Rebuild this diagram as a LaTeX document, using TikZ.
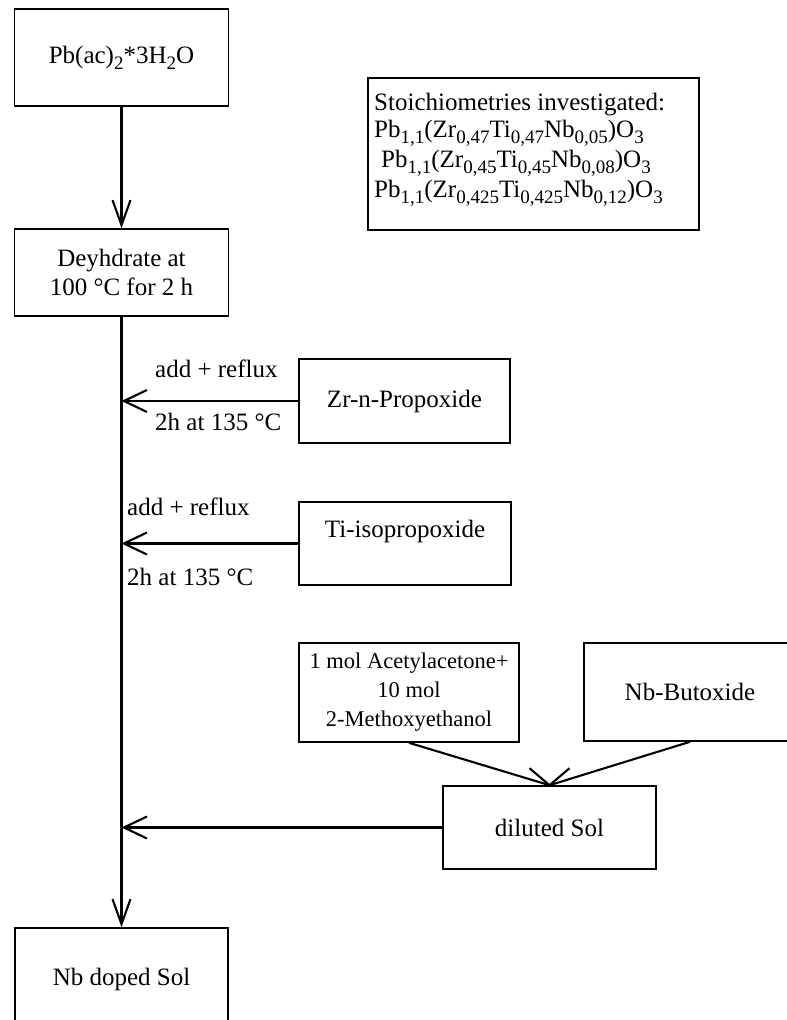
\documentclass[tikz,border=0pt]{standalone}
\usepackage{fontspec}
\setmainfont{Liberation Serif}
\usetikzlibrary{arrows.meta,calc}
\newcommand\sbs[1]{\raisebox{-0.25em}{\fontsize{19}{19}\selectfont #1}}
\begin{document}
\begin{tikzpicture}[x=1pt,y=-1pt,
  box/.style={draw,line width=1.6pt,inner sep=0pt,align=center,font=\fontsize{25}{29.5}\selectfont},
  lbl/.style={inner sep=0pt,anchor=base west,font=\fontsize{25}{29.5}\selectfont},
  conn/.style={line width=2.1pt},
  vtip/.style={-{Straight Barb[length=25pt,width=18pt]}},
  htip/.style={-{Straight Barb[length=23pt,width=22pt]}}]
\useasboundingbox (0,0) rectangle (787,1020);
\clip (0,0) rectangle (787,1020);

\node[box,minimum width=214pt,minimum height=97pt] (pb) at (121.5,57.5) {Pb(ac)\sbs{2}*3H\sbs{2}O};
\node[box,minimum width=214pt,minimum height=87pt] (dh) at (121.5,272.5) {Deyhdrate at\\100 °C for 2 h};
\node[box,minimum width=211pt,minimum height=84pt] (zr) at (404.5,401) {Zr-n-Propoxide};
\node[box,minimum width=212pt,minimum height=83pt] (ti) at (405,543.5) {Ti-isopropoxide\\\mbox{}};
\node[box,minimum width=220pt,minimum height=99pt,font=\fontsize{22.5}{29}\selectfont] (acac) at (409,692.5) {1 mol Acetylacetone+\\10 mol\\2-Methoxyethanol};
\node[box,minimum width=212pt,minimum height=98pt] (nb) at (690,692) {Nb-Butoxide};
\node[box,minimum width=213pt,minimum height=83pt] (dil) at (549.5,827.5) {diluted Sol};
\node[box,minimum width=213pt,minimum height=102pt] (fin) at (121.5,979) {Nb doped Sol};

\node[draw,line width=1.6pt,minimum width=331pt,minimum height=152pt,inner sep=0pt] (st) at (533.5,154) {};
\node[lbl] (st1) at (374,110) {Stoichiometries investigated:};
\node[lbl] (st2) at (374,137) {Pb\sbs{1,1}(Zr\sbs{0,47}Ti\sbs{0,47}Nb\sbs{0,05})O\sbs{3}};
\node[lbl] (st3) at (381,167) {Pb\sbs{1,1}(Zr\sbs{0,45}Ti\sbs{0,45}Nb\sbs{0,08})O\sbs{3}};
\node[lbl] (st4) at (374,197) {Pb\sbs{1,1}(Zr\sbs{0,425}Ti\sbs{0,425}Nb\sbs{0,12})O\sbs{3}};

\draw[conn,vtip] (pb.south) -- (dh.north);
\draw[conn,vtip] (dh.south) -- (fin.north);
\draw[conn,htip] (zr.west) -- (zr.west -| dh.south);
\draw[conn,htip] (ti.west) -- (ti.west -| dh.south);
\draw[conn,htip] (dil.west) -- (dil.west -| dh.south);
\draw[conn] (acac.south) -- (dil.north);
\draw[conn] (nb.south) -- (dil.north);
\draw[conn] ($(dil.north)+(-20pt,17pt)$) -- (dil.north) -- ($(dil.north)+(20pt,17pt)$);

\node[lbl] (zra) at (155,377) {add + reflux};
\node[lbl] (zrb) at (155,430) {2h at 135 °C};
\node[lbl] (tia) at (127,515) {add + reflux};
\node[lbl] (tib) at (127,585) {2h at 135 °C};
\end{tikzpicture}
\end{document}
